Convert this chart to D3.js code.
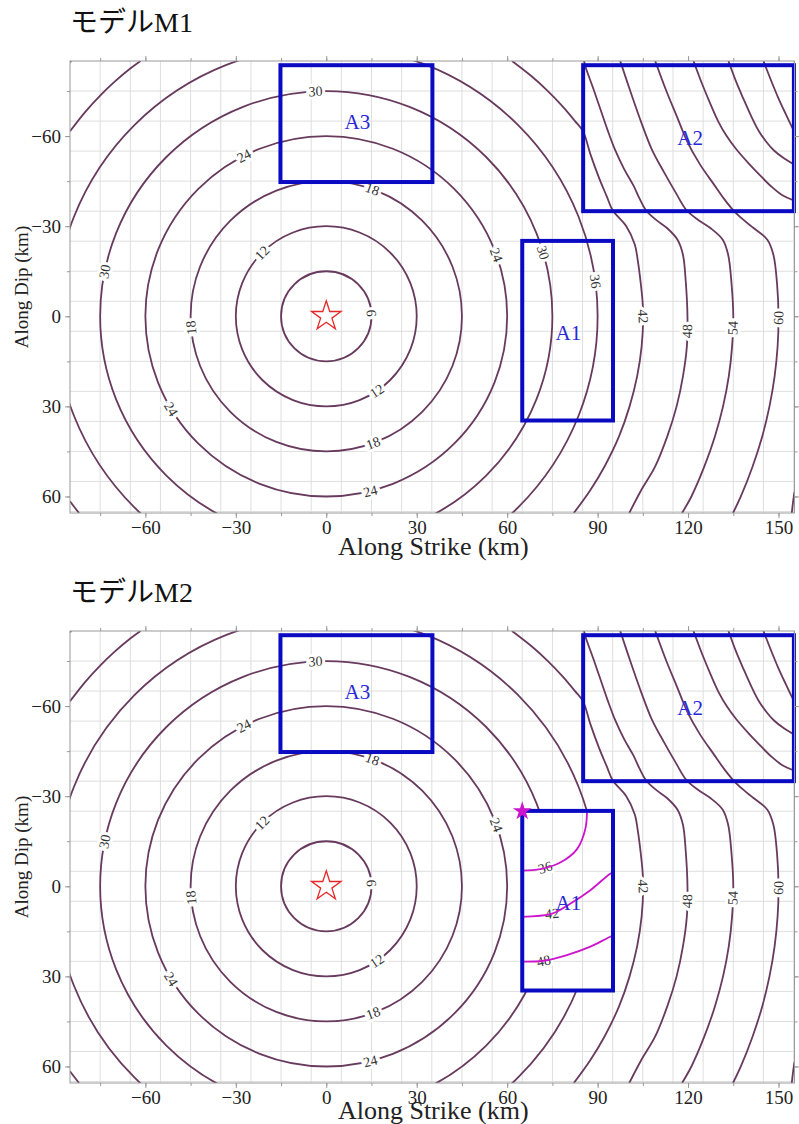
<!DOCTYPE html>
<html>
<head>
<meta charset="utf-8">
<script src="https://cdn.jsdelivr.net/npm/d3@7"></script>
<style>
  body { margin: 0; background: #fff; }
  svg { display: block; }
  text { font-family: "Liberation Serif", "Times New Roman", serif; }
</style>
</head>
<body>
<svg id="chart" width="799" height="1124"></svg>
<script>
// ---------------- data (km / s) ----------------
const panelTitles = ["モデルM1", "モデルM2"];
const xTickValues = [-60, -30, 0, 30, 60, 90, 120, 150];
const yTickValues = [-60, -30, 0, 30, 60];

// rupture-time fronts that stay circular around the hypocentre (level s -> radius km)
const circleLevels = [6, 12, 18, 24, 30, 36];
const circleRadii  = [15, 30, 45, 60, 75, 90];

// traced fronts (km) for the later levels, one or more pieces per level
const front42 = [
  [[-85,-61.6],[-80,-68],[-75,-73.5],[-70,-78.3],[-65,-82.5],[-61.6,-85]],
  [[-85,61.6],[-83.5,63.6],[-82,65.5]],
  [[61.6,-85],[68,-80],[73.5,-75],[78.3,-70],[82.5,-65],[85.2,-61.5],[87.6,-54],[90.5,-46],[93,-40],[95,-35.3],[99.5,-30],[102.3,-24],[103.4,-18],[104.3,-11],[104.9,-5],[105.1,0],[104.6,10],[103.1,20],[100.6,30],[97.1,40],[92.3,50],[87.5,58],[82.1,65.5]]
];
const front48 = [
  [[-85,-84.6],[-84.6,-85]],
  [[85.5,-85],[86,-83],[88.5,-76],[90.9,-69],[93.3,-62],[95.8,-55.4],[98.8,-49],[101.9,-43.5],[104,-39],[106,-35.3],[109.5,-32],[113,-29.4],[116.5,-25.5],[118.3,-20.5],[119.2,-12],[119.8,0],[119.6,10],[118.3,20],[116.2,30],[113.1,40],[109.1,50],[104.4,58],[100.5,65.5]]
];
const front54 = [
  [[97.5,-85],[101,-74.5],[104.5,-64.5],[108,-55.5],[112,-48],[116,-41],[119.5,-35.3],[123.5,-32],[127.4,-29.4],[131.5,-25.5],[133.3,-20.5],[134.4,-11],[135,0],[134.6,10],[133.5,20],[131.6,30],[128.9,40],[125.4,50],[121.1,60],[118,65.5]]
];
const front60 = [
  [[109.1,-85],[112.8,-75],[116.3,-66.5],[119.8,-58],[124,-50.5],[128.5,-44],[132,-39],[135,-35.3],[138.5,-32],[141.7,-29.4],[146.3,-25.5],[148.3,-20.5],[149.5,-11],[150,0],[149.7,10],[148.7,20],[147,30],[144.6,40],[141.4,50],[137.5,60],[134.9,65.5]]
];
const front66 = [
  [[121.8,-85],[124.6,-77.5],[127.5,-70.5],[130.2,-64.5],[132.8,-60],[136,-55.6],[140,-51],[143.8,-47],[147.5,-43.3],[151,-40.5],[155.3,-38.5]],
  [[155.3,58.5],[154.8,62],[154.4,65.5]]
];
const front72 = [
  [[133.4,-85],[135.9,-78.2],[138.4,-72.3],[141,-66.5],[143.4,-61.8],[145.8,-58.3],[148.5,-55.2],[151.8,-52.6],[155.3,-50.5]]
];
const front78 = [
  [[145,-85],[147.5,-78.6],[149.8,-73],[151.8,-68.6],[153.5,-65],[155.3,-61.3]]
];
const tracedLevels = [42, 48, 54, 60, 66, 72, 78];
const tracedFronts = [front42, front48, front54, front60, front66, front72, front78];

// contour labels: [level, x km, y km]
const frontLabels = [
  [6, 15, -1], [12, -21.3, -21.1], [12, 16.8, 24.9],
  [18, -45.3, 3.8], [18, 15.7, 42.7], [18, 15.3, -42.3],
  [24, -27.5, -53.8], [24, -51.7, 31], [24, 14.6, 58.2], [24, 56.6, -20.5],
  [30, -3.6, -74.8], [30, -73.9, -15], [30, 71.5, -21.1],
  [36, 89.2, -11.6], [42, 105.2, 0], [48, 120.2, 5], [54, 135.1, 3.9], [60, 150, 0.5]
];

// model M2: delayed fronts inside area A1
const slowLevels = [36, 42, 48];
const slowFront36 = [[86.5,-25.5],[85.9,-19],[83.1,-12.3],[77.6,-7.9],[71,-5.7],[64,-5.2]];
const slowFront42 = [[96,-5],[94.2,-4.2],[87.6,1.3],[80.9,5.8],[74.9,9.1],[64,10.2]];
const slowFront48 = [[96,16.2],[94.2,16.8],[87.6,20.1],[79.8,22.9],[72.1,24.8],[64,25.1]];
const slowFronts = [slowFront36, slowFront42, slowFront48];
const slowLabels = [[36, 72.6, -6.2], [42, 74.9, 9.3], [48, 72.1, 24.8]];
const nucleationM2 = [65, -25];

// study areas
const areaNames = ["A1", "A2", "A3"];
const areaX = [[65, 95.1], [85.2, 155.1], [-15.2, 35.2]];
const areaY = [[-25.1, 34.7], [-83.6, -35], [-83.6, -44.7]];
const areaLabelPos = [[80.3, 5.4], [120.7, -59.4], [10.3, -64.7]];

// ---------------- layout ----------------
const plotL = 70, plotR = 794.5, plotT = 61, plotB = 513;
const panelOffset = [0, 570];
const xTitleBaseline = [555, 549];
const x = d3.scaleLinear().domain([-85, 155.3]).range([plotL, plotR]);
const y = d3.scaleLinear().domain([-85, 65.5]).range([plotT, plotB]);

const frontColor = "rgb(104,58,94)";
const slowColor = "rgb(205,20,205)";
const boxColor = "rgb(10,10,195)";
const gridColor = "#dedede";
const frameColor = "#9a9a9a";

const svg = d3.select("#chart");
const defs = svg.append("defs");

const line = d3.line().x(d => x(d[0])).y(d => y(d[1])).curve(d3.curveCatmullRom.alpha(0.5));

// keep label text upright; near-vertical labels west of the hypocentre read upward
function labelAngle(a, onWest) {
  while (a > 90) a -= 180;
  while (a <= -90) a += 180;
  if (onWest && a > 80) a -= 180;
  return a;
}

// nearest point + tangent angle on a front, in pixel space
function placeOnCircle(r, px, py) {
  const d = Math.hypot(px, py) || 1;
  const qx = px / d * r, qy = py / d * r;
  const tx = -(y(qy) - y(0)), ty = x(qx) - x(0);
  return [x(qx), y(qy), labelAngle(Math.atan2(ty, tx) * 180 / Math.PI, qx < 0)];
}
function placeOnPolyline(pieces, px, py) {
  const P = [x(px), y(py)];
  let best = null;
  pieces.forEach(pts => {
    for (let i = 0; i < pts.length - 1; i++) {
      const a = [x(pts[i][0]), y(pts[i][1])], b = [x(pts[i+1][0]), y(pts[i+1][1])];
      const vx = b[0] - a[0], vy = b[1] - a[1];
      const L2 = vx * vx + vy * vy;
      let t = ((P[0] - a[0]) * vx + (P[1] - a[1]) * vy) / L2;
      t = Math.max(0, Math.min(1, t));
      const q = [a[0] + t * vx, a[1] + t * vy];
      const d = Math.hypot(q[0] - P[0], q[1] - P[1]);
      if (!best || d < best.d) best = { d, q, ang: Math.atan2(vy, vx) * 180 / Math.PI };
    }
  });
  return [best.q[0], best.q[1], labelAngle(best.ang, px < 0)];
}

function insideArea(i, px, py) {
  return px > areaX[i][0] && px < areaX[i][1] && py > areaY[i][0] && py < areaY[i][1];
}

function drawPanel(idx) {
  const g = svg.append("g").attr("transform", `translate(0,${panelOffset[idx]})`);

  // title
  g.append("text").attr("x", 70).attr("y", 32)
    .attr("font-size", 28).attr("fill", "#111")
    .style("font-family", '"Liberation Serif", "Noto Sans CJK JP", serif')
    .text(panelTitles[idx]);

  const clipId = `plotclip${idx}`;
  defs.append("clipPath").attr("id", clipId)
    .append("rect").attr("x", plotL).attr("y", plotT)
    .attr("width", plotR - plotL).attr("height", plotB - plotT);

  // grid
  const grid = g.append("g");
  d3.range(-75, 156, 10).forEach(v => {
    grid.append("line").attr("x1", x(v)).attr("x2", x(v)).attr("y1", plotT).attr("y2", plotB)
      .attr("stroke", gridColor).attr("stroke-width", 1);
  });
  d3.range(-75, 66, 10).forEach(v => {
    grid.append("line").attr("y1", y(v)).attr("y2", y(v)).attr("x1", plotL).attr("x2", plotR)
      .attr("stroke", gridColor).attr("stroke-width", 1);
  });

  // fronts
  const fronts = g.append("g").attr("clip-path", `url(#${clipId})`);
  let host = fronts;
  if (idx === 1) {
    const maskId = "maskA1";
    const m = defs.append("mask").attr("id", maskId).attr("maskUnits", "userSpaceOnUse")
      .attr("x", 0).attr("y", 0).attr("width", 799).attr("height", 600);
    m.append("rect").attr("x", 0).attr("y", 0).attr("width", 799).attr("height", 600).attr("fill", "#fff");
    m.append("rect").attr("x", x(areaX[0][0])).attr("y", y(areaY[0][0]))
      .attr("width", x(areaX[0][1]) - x(areaX[0][0])).attr("height", y(areaY[0][1]) - y(areaY[0][0]))
      .attr("fill", "#000");
    host = fronts.append("g").attr("mask", `url(#${maskId})`);
  }
  circleLevels.forEach((lv, i) => {
    host.append("ellipse")
      .attr("cx", x(0)).attr("cy", y(0))
      .attr("rx", x(circleRadii[i]) - x(0)).attr("ry", y(circleRadii[i]) - y(0))
      .attr("fill", "none").attr("stroke", frontColor).attr("stroke-width", 1.8);
  });
  tracedFronts.forEach(pieces => {
    pieces.forEach(pts => {
      host.append("path").attr("d", line(pts))
        .attr("fill", "none").attr("stroke", frontColor).attr("stroke-width", 1.8);
    });
  });

  // labels on fronts
  const labG = g.append("g").attr("clip-path", `url(#${clipId})`);
  function addLabel(text, p) {
    labG.append("text")
      .attr("transform", `translate(${p[0]},${p[1]}) rotate(${p[2]})`)
      .attr("text-anchor", "middle").attr("dy", "0.34em")
      .attr("font-size", 14).attr("fill", "#333")
      .attr("stroke", "#fff").attr("stroke-width", 6).attr("paint-order", "stroke")
      .text(text);
  }
  frontLabels.forEach(([lv, lx, ly]) => {
    if (idx === 1 && insideArea(0, lx, ly)) return;
    const ci = circleLevels.indexOf(lv);
    let p;
    if (ci >= 0) p = placeOnCircle(circleRadii[ci], lx, ly);
    else p = placeOnPolyline(tracedFronts[tracedLevels.indexOf(lv)], lx, ly);
    addLabel(lv, p);
  });

  // M2 delayed fronts inside A1
  if (idx === 1) {
    const a1Clip = "a1clip";
    defs.append("clipPath").attr("id", a1Clip)
      .append("rect").attr("x", x(areaX[0][0])).attr("y", y(areaY[0][0]))
      .attr("width", x(areaX[0][1]) - x(areaX[0][0])).attr("height", y(areaY[0][1]) - y(areaY[0][0]));
    const sg = g.append("g").attr("clip-path", `url(#${a1Clip})`);
    slowFronts.forEach(pts => {
      sg.append("path").attr("d", line(pts))
        .attr("fill", "none").attr("stroke", slowColor).attr("stroke-width", 1.8);
    });
    slowLabels.forEach(([lv, lx, ly]) => {
      const p = placeOnPolyline([slowFronts[slowLevels.indexOf(lv)]], lx, ly);
      addLabel(lv, p);
    });
  }

  // study areas
  areaNames.forEach((nm, i) => {
    g.append("rect")
      .attr("x", x(areaX[i][0])).attr("y", y(areaY[i][0]))
      .attr("width", x(areaX[i][1]) - x(areaX[i][0]))
      .attr("height", y(areaY[i][1]) - y(areaY[i][0]))
      .attr("fill", "none").attr("stroke", boxColor).attr("stroke-width", 4);
    g.append("text")
      .attr("x", x(areaLabelPos[i][0])).attr("y", y(areaLabelPos[i][1]))
      .attr("text-anchor", "middle").attr("dy", "0.35em")
      .attr("font-size", 21).attr("fill", "rgb(40,40,215)")
      .text(nm);
  });

  // hypocentre
  g.append("path")
    .attr("d", d3.symbol(d3.symbolStar, 270)())
    .attr("transform", `translate(${x(0)},${y(0)})`)
    .attr("fill", "#fff").attr("stroke", "rgb(230,40,40)").attr("stroke-width", 1.3);
  if (idx === 1) {
    g.append("path")
      .attr("d", d3.symbol(d3.symbolStar, 110)())
      .attr("transform", `translate(${x(nucleationM2[0])},${y(nucleationM2[1])})`)
      .attr("fill", "rgb(205,20,205)");
  }

  // frame
  g.append("rect").attr("x", plotL).attr("y", plotT)
    .attr("width", plotR - plotL).attr("height", plotB - plotT)
    .attr("fill", "none").attr("stroke", frameColor).attr("stroke-width", 1);

  // axes
  const minorX = d3.range(-75, 156, 15);
  const minorY = d3.range(-75, 66, 15);
  function styleAxis(sel) {
    sel.select(".domain").remove();
    sel.selectAll(".tick line").attr("stroke", frameColor);
    sel.selectAll(".tick text").attr("font-size", 19).attr("fill", "#222")
      .style("font-family", '"Liberation Serif", serif');
  }
  g.append("g").attr("transform", `translate(0,${plotB})`)
    .call(d3.axisBottom(x).tickValues(minorX).tickSize(3).tickFormat(""))
    .call(styleAxis);
  g.append("g").attr("transform", `translate(0,${plotB})`)
    .call(d3.axisBottom(x).tickValues(xTickValues).tickSizeInner(5).tickSizeOuter(0).tickPadding(3))
    .call(styleAxis);
  g.append("g").attr("transform", `translate(0,${plotT})`)
    .call(d3.axisTop(x).tickValues(minorX).tickSize(3).tickFormat(""))
    .call(styleAxis);
  g.append("g").attr("transform", `translate(0,${plotT})`)
    .call(d3.axisTop(x).tickValues(xTickValues).tickSize(5).tickFormat(""))
    .call(styleAxis);
  g.append("g").attr("transform", `translate(${plotL},0)`)
    .call(d3.axisLeft(y).tickValues(minorY).tickSize(3).tickFormat(""))
    .call(styleAxis);
  g.append("g").attr("transform", `translate(${plotL},0)`)
    .call(d3.axisLeft(y).tickValues(yTickValues).tickSizeInner(5).tickSizeOuter(0).tickPadding(4))
    .call(styleAxis);
  g.append("g").attr("transform", `translate(${plotR},0)`)
    .call(d3.axisRight(y).tickValues(minorY).tickSize(3).tickFormat(""))
    .call(styleAxis);
  g.append("g").attr("transform", `translate(${plotR},0)`)
    .call(d3.axisRight(y).tickValues(yTickValues).tickSize(5).tickFormat(""))
    .call(styleAxis);

  // axis titles
  g.append("text").attr("x", (plotL + plotR) / 2 + 1).attr("y", xTitleBaseline[idx])
    .attr("text-anchor", "middle").attr("font-size", 26).attr("fill", "#222")
    .text("Along Strike (km)");
  g.append("text").attr("transform", `translate(28,${(plotT + plotB) / 2}) rotate(-90)`)
    .attr("text-anchor", "middle").attr("font-size", 19).attr("fill", "#222")
    .text("Along Dip (km)");
}

drawPanel(0);
drawPanel(1);
</script>
</body>
</html>
